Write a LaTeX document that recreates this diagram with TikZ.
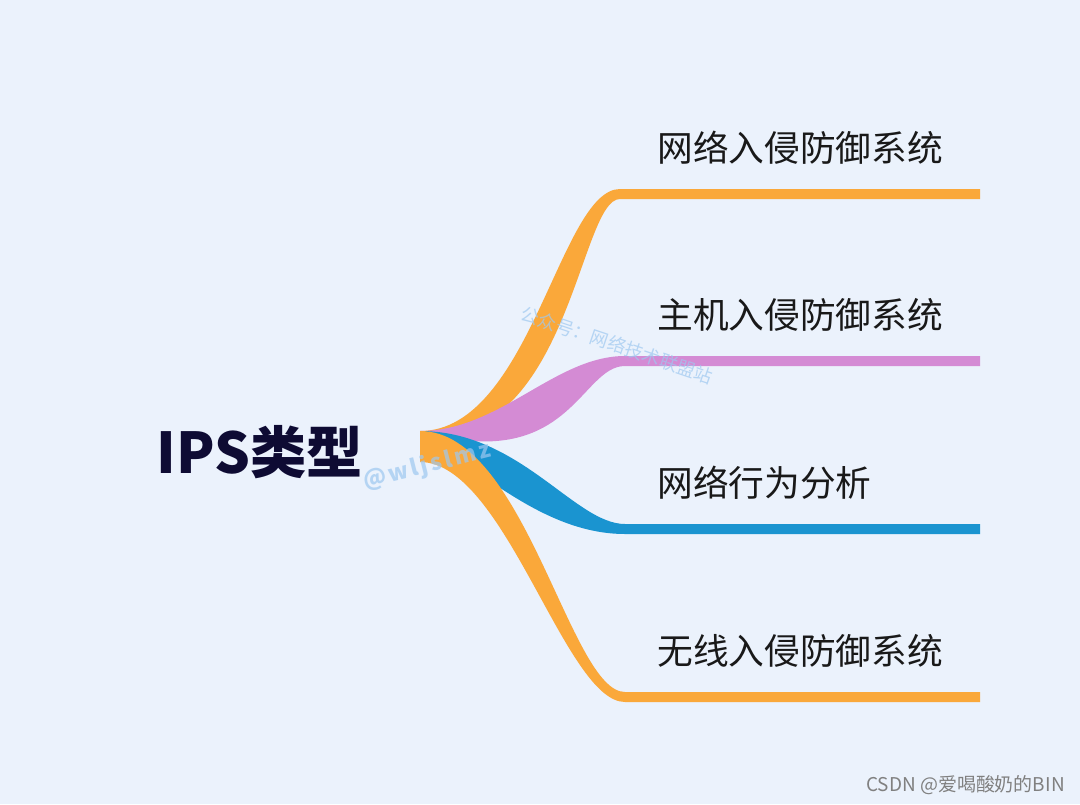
\documentclass[tikz,border=0pt]{standalone}
\usepackage{fontspec}
\setmainfont{Noto Sans CJK SC}
\usepackage{tikz}
\usetikzlibrary{positioning}
\definecolor{bgblue}{HTML}{EBF2FC}
\definecolor{brorange}{HTML}{FAA83A}
\definecolor{brpurple}{HTML}{D48BD4}
\definecolor{brblue}{HTML}{1A94D0}
\definecolor{rootink}{HTML}{0E0B33}
\definecolor{markblue}{HTML}{9EC8F0}

\begin{document}
\begin{tikzpicture}[
  x=0.025cm, y=-0.025cm,
  root/.style={font=\fontsize{40pt}{46pt}\selectfont\bfseries, text=rootink, inner sep=0pt},
  leaf/.style={font=\fontsize{25.4pt}{30pt}\selectfont, text=black!90, inner sep=0pt, anchor=west},
  wmark/.style={text=markblue, opacity=0.7, inner sep=0pt},
  credit/.style={font=\fontsize{13.5pt}{15pt}\selectfont, text=black!50, inner sep=0pt, anchor=east}
]
\fill[bgblue] (0,0) rectangle (1080,804);
\useasboundingbox (0,0) rectangle (1080,804);

\coordinate (o) at (420,431);
\coordinate (a) at (620,189);
\coordinate (b) at (625,356);
\coordinate (c) at (625,524);
\coordinate (d) at (625,692);

\fill[brorange] (o) .. controls +(110,0) and +(-60,0) .. (a) -- (980,189) -- (980,199) -- (620,199)
  .. controls +(-40,0) and +(140,0) .. (430,437) -- cycle;
\fill[brpurple] (o) .. controls +(80,0) and +(-70,0) .. (b) -- (980,356) -- (980,366) -- (625,366)
  .. controls +(-45,0) and +(150,44) .. (o) -- cycle;
\fill[brblue] (o) .. controls +(100,0) and +(-50,0) .. (c) -- (980,524) -- (980,534) -- (625,534)
  .. controls +(-80,0) and +(60,37) .. (420,433) -- cycle;
\fill[brorange] (o) .. controls +(105,0) and +(-55,0) .. (d) -- (980,692) -- (980,702) -- (625,702)
  .. controls +(-60,0) and +(85,0) .. (420,462) -- cycle;

\node[root] (ips) at (260,452) {IPS类型};
\node[leaf] (nips) at (657,148) {网络入侵防御系统};
\node[leaf] (hips) at (657,315) {主机入侵防御系统};
\node[leaf] (nba) at (657,483) {网络行为分析};
\node[leaf] (wips) at (657,651) {无线入侵防御系统};

\node[wmark, rotate=-18.7, font=\fontsize{13pt}{15pt}\selectfont] (wm1) at (617,345) {公众号：网络技术联盟站};
\node[wmark, rotate=14, font=\fontsize{16pt}{18pt}\selectfont\bfseries\addfontfeatures{LetterSpace=12}] (wm2) at (427,466) {@wljslmz};
\node[credit] (csdn) at (1065,785) {CSDN @爱喝酸奶的BIN};
\end{tikzpicture}
\end{document}
